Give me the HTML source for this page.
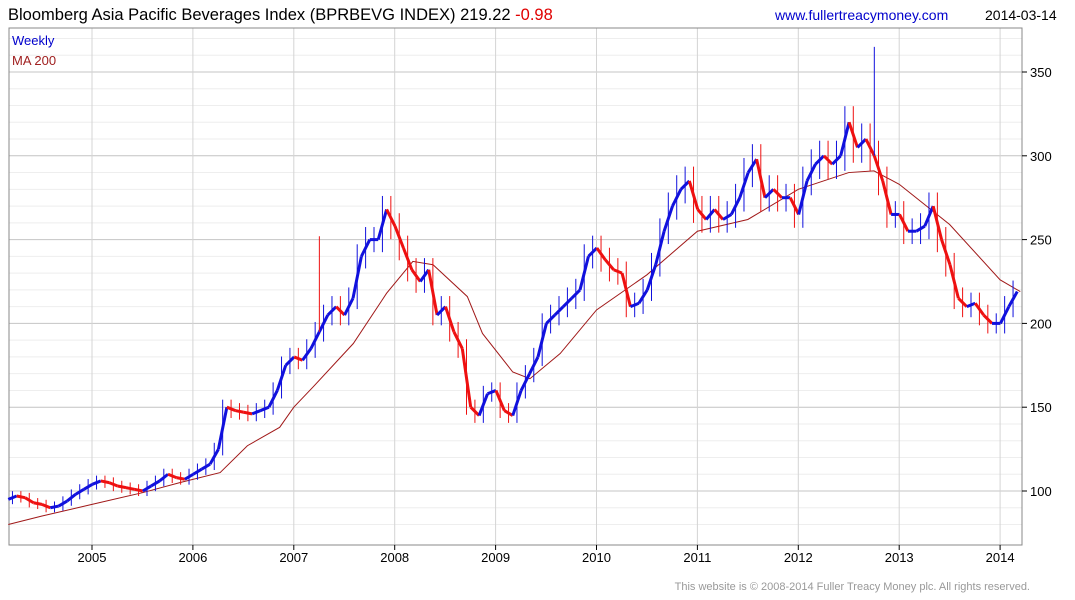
<!DOCTYPE html>
<html><head><meta charset="utf-8"><style>
body{margin:0;background:#fff;font-family:"Liberation Sans",sans-serif}
svg{display:block}
</style></head><body>
<svg id="c" width="1075" height="600">
<text x="8" y="20" font-size="16.5" fill="#000">Bloomberg Asia Pacific Beverages Index (BPRBEVG INDEX) 219.22 <tspan fill="#e00000">-0.98</tspan></text>
<text x="775" y="20" font-size="14" fill="#0000cc">www.fullertreacymoney.com</text>
<text x="985" y="20" font-size="14" fill="#000">2014-03-14</text>
<g id="grid"></g>
<rect x="9" y="28" width="1013" height="517" fill="none" stroke="#888"/>
<g id="ma"></g><g id="bars"></g><g id="axes"></g>
<text x="12" y="45" font-size="13" fill="#0000cc">Weekly</text>
<text x="12" y="65" font-size="13" fill="#a02020">MA 200</text>
<text x="1030" y="590" font-size="11" fill="#999" text-anchor="end">This website is © 2008-2014 Fuller Treacy Money plc. All rights reserved.</text>
</svg>
<script>
const startYear = 2004.17;
const closes = [95,97,96,93,92,90,91,94,98,101,
104,106,105,103,102,101,100,103,106,110,108,107,
110,113,116,125,150,148,147,146,148,150,160,175,
180,178,185,195,205,210,205,215,240,250,250,268,
258,245,232,225,232,205,210,195,185,150,145,158,
160,148,145,160,170,180,200,205,210,215,220,240,
245,238,232,230,210,212,220,235,255,270,280,285,
268,262,268,262,265,275,290,298,275,280,275,275,
265,285,295,300,295,300,320,305,310,300,285,265,
265,255,255,258,270,250,235,215,210,212,205,200,
200,210,219];
const spikeIdx = [37,103];
const spikeHigh = [252,365];
const maYears = [2004.17,2004.5,2005,2005.5,2005.87,2006.27,2006.54,2006.86,2007,2007.19,2007.59,2007.92,2008.18,2008.38,2008.72,2008.87,2009.17,2009.34,2009.64,2010,2010.5,2011,2011.5,2012,2012.5,2012.75,2013,2013.5,2014,2014.2];
const maVals = [80,85,92,99,105,111,127,138,150,162,188,218,237,235,216,194,171,167,182,208,229,255,262,280,290,291,283,259,226,219];
const yTicks = [100,150,200,250,300,350];
const xTicks = [2005,2006,2007,2008,2009,2010,2011,2012,2013,2014];
const ns="http://www.w3.org/2000/svg";
const X=t=>92+(t-2005)*100.9;
const Y=v=>491-(v-100)*1.676;
function mk(tag,attrs,parent){const e=document.createElementNS(ns,tag);for(const k in attrs)e.setAttribute(k,attrs[k]);document.getElementById(parent).appendChild(e);return e;}
for(let v=80;v<=370;v+=10){if(Y(v)<29||Y(v)>544)continue;const g=mk('line',{x1:9,x2:1022,y1:Y(v),y2:Y(v),stroke:v%50?'#eee':'#c4c4c4'},'grid');

}
xTicks.forEach(t=>{const g=mk('line',{x1:X(t),x2:X(t),y1:28,y2:545,stroke:'#d4d4d4'},'grid');

});
yTicks.forEach(v=>{const t=mk('text',{x:1030,y:Y(v)+5,'font-size':13,fill:'#000'},'axes');t.textContent=v;


mk('line',{x1:1022,x2:1027,y1:Y(v),y2:Y(v),stroke:'#000'},'axes');});
xTicks.forEach(y=>{const t=mk('text',{x:X(y),y:562,'font-size':13,fill:'#000','text-anchor':'middle'},'axes');t.textContent=y;


mk('line',{x1:X(y),x2:X(y),y1:545,y2:550,stroke:'#000'},'axes');});
let d='';maYears.forEach((t,i)=>{d+=(i?'L':'M')+X(t)+' '+Y(maVals[i]);});
const m=mk('path',{d:d,fill:'none',stroke:'#a01818','stroke-width':1},'ma');


const dt=1/12;
for(let i=1;i<closes.length;i++){
 const t0=startYear+(i-1)*dt,t1=startYear+i*dt,a=closes[i-1],b=closes[i];
 const col=b>=a?'#1010dd':'#ee1010';
 const s=mk('line',{x1:X(t0),y1:Y(a),x2:X(t1),y2:Y(b),stroke:col,'stroke-width':3},'bars');
 
 
 const hi=Math.max(a,b)*1.03,lo=Math.min(a,b)*0.97;
 const w=mk('line',{x1:X((t0+t1)/2),x2:X((t0+t1)/2),y1:Y(hi),y2:Y(lo),stroke:col,'stroke-width':1},'bars');
 
 
}
spikeIdx.forEach((i,k)=>{const t=startYear+i*dt;const s=mk('line',{x1:X(t),x2:X(t),y1:Y(spikeHigh[k]),y2:Y(closes[i]),stroke:k?'#1010dd':'#ee1010','stroke-width':1},'bars');

});
</script>
</body></html>
